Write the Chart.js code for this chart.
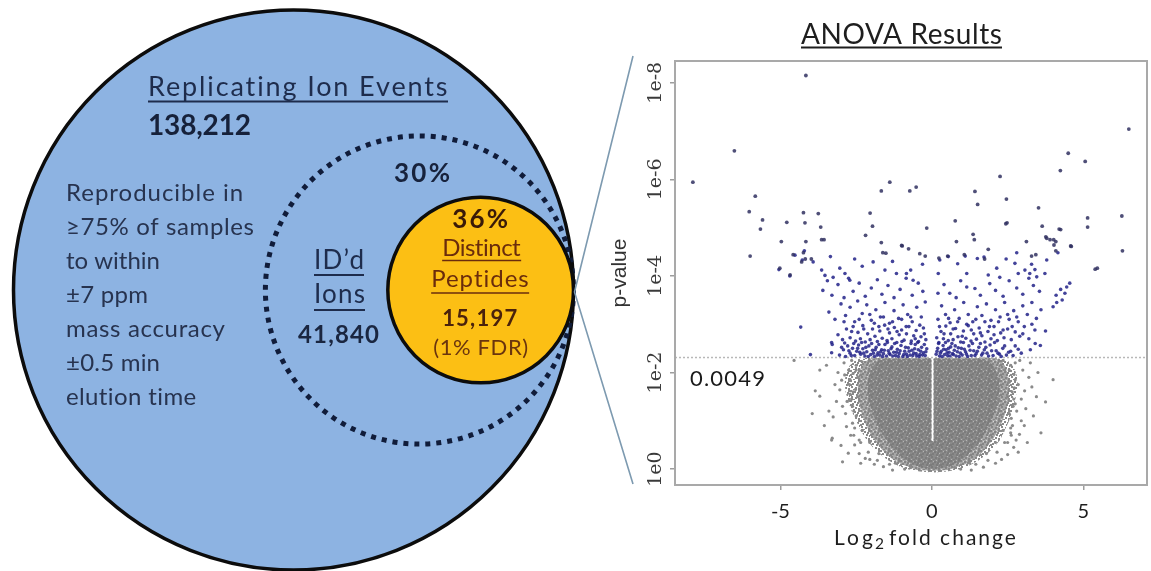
<!DOCTYPE html>
<html>
<head>
<meta charset="utf-8">
<title>Replicating ion events and ANOVA results</title>
<script src="https://cdn.jsdelivr.net/npm/chart.js@4.4.1/dist/chart.umd.min.js"></script>
<style>
  html, body { margin: 0; padding: 0; background: #ffffff; }
  #figure { position: relative; width: 1151px; height: 571px; overflow: hidden; background: #ffffff; }
  #venn { position: absolute; left: 0; top: 0; }
  #volcano { position: absolute; left: 600px; top: 0; }
</style>
</head>
<body>
<div id="figure">
  <canvas id="venn" width="640" height="571"></canvas>
  <canvas id="volcano" width="551" height="571"></canvas>
</div>
<script>
// ---------------- data ----------------
const vennNames = ['Replicating Ion Events', 'ID\u2019d Ions', 'Distinct Peptides'];
const vennCounts = [138212, 41840, 15197];
const vennCriteria = ['Reproducible in', '\u226575% of samples', 'to within', '\u00b17 ppm',
                      'mass accuracy', '\u00b10.5 min', 'elution time'];
const fdrNote = '(1% FDR)';

const thresholdP = 0.0049;
const xTicks = [-5, 0, 5];
const yTicks = [0, 2, 4, 6, 8];                 // -log10(p)
const yTickLabels = ['1e0', '1e-2', '1e-4', '1e-6', '1e-8'];

// significant peptides [log2 fold change, -log10 p], p < threshold
const sigPoints = [
  [-3.31,2.41],[-3.29,2.58],[-3.05,2.36],[-2.92,2.47],[-2.85,2.33],[-2.78,2.55],[-2.7,2.4],[-2.62,2.5],[-2.55,2.35],[-2.48,2.44],
  [-2.42,2.57],[-2.35,2.38],[-2.28,2.49],[-2.21,2.34],[-2.15,2.43],[-2.08,2.55],[-2.02,2.37],[-1.96,2.46],[-1.9,2.33],[-1.84,2.52],
  [-1.78,2.41],[-1.72,2.36],[-1.66,2.47],[-1.6,2.39],[-1.55,2.58],[-1.5,2.34],[-1.44,2.45],[-1.38,2.37],[-1.32,2.53],[-1.26,2.42],
  [-1.2,2.35],[-1.14,2.48],[-1.08,2.39],[-1.02,2.56],[-0.96,2.33],[-0.9,2.44],[-0.84,2.38],[-0.78,2.51],[-0.72,2.36],[-0.66,2.46],
  [-0.6,2.4],[-0.55,2.58],[-0.5,2.34],[-0.45,2.47],[-0.4,2.37],[-0.34,2.52],[-0.28,2.41],[-0.22,2.35],[-0.17,2.49],
  [0.14,2.38],[0.19,2.5],[0.25,2.34],[0.31,2.44],[0.37,2.56],[0.42,2.37],[0.47,2.47],[0.52,2.35],[0.57,2.42],[0.62,2.53],
  [0.68,2.39],[0.74,2.46],[0.8,2.34],[0.87,2.51],[0.94,2.4],[1.0,2.36],[1.07,2.48],[1.14,2.38],[1.22,2.55],[1.3,2.35],
  [1.38,2.45],[1.46,2.39],[1.55,2.52],[1.64,2.36],[1.73,2.47],[1.82,2.4],[1.92,2.57],[2.02,2.35],[2.12,2.45],[2.23,2.38],
  [2.34,2.5],[2.46,2.36],[2.6,2.44],[2.75,2.55],[2.95,2.4],[3.25,2.47],[3.41,2.6],[3.58,2.56],[-4.01,2.37],
  [-2.98,2.52],[-2.88,2.61],[-2.74,2.45],[-2.66,2.35],[-2.58,2.6],[-2.45,2.5],[-2.38,2.42],[-2.32,2.62],[-2.25,2.4],[-2.18,2.52],
  [-2.1,2.33],[-1.99,2.6],[-1.93,2.4],[-1.87,2.47],[-1.81,2.36],[-1.75,2.58],[-1.69,2.43],[-1.63,2.33],[-1.57,2.46],[-1.47,2.62],
  [-1.41,2.4],[-1.35,2.49],[-1.29,2.34],[-1.23,2.6],[-1.17,2.42],[-1.11,2.33],[-1.05,2.45],[-0.99,2.64],[-0.93,2.37],[-0.87,2.52],
  [-0.81,2.33],[-0.75,2.44],[-0.69,2.6],[-0.63,2.35],[-0.57,2.49],[-0.52,2.39],[-0.47,2.62],[-0.42,2.33],[-0.37,2.44],[-0.31,2.36],
  [-0.25,2.58],[-0.2,2.43],
  [0.17,2.44],[0.22,2.6],[0.28,2.4],[0.34,2.33],[0.39,2.48],[0.45,2.62],[0.5,2.41],[0.55,2.5],[0.6,2.34],[0.66,2.6],
  [0.71,2.37],[0.77,2.55],[0.84,2.43],[0.9,2.33],[0.97,2.5],[1.04,2.62],[1.11,2.43],[1.18,2.33],[1.26,2.46],[1.34,2.6],
  [1.42,2.35],[1.5,2.44],[1.6,2.6],[1.68,2.4],[1.78,2.52],[1.87,2.34],[1.97,2.45],[2.07,2.62],[2.18,2.4],[2.29,2.33],
  [2.4,2.55],[2.53,2.42],[2.68,2.35],[2.85,2.48],
  [-3.31,2.62],[-3.1,2.78],[-2.95,2.68],[-2.82,2.9],[-2.7,2.72],[-2.6,2.95],[-2.52,2.65],[-2.44,2.83],[-2.36,2.7],[-2.28,2.97],
  [-2.2,2.63],[-2.12,2.8],[-2.04,2.68],[-1.96,2.9],[-1.88,2.75],[-1.8,2.64],[-1.72,2.86],[-1.64,2.71],[-1.56,2.98],[-1.48,2.66],
  [-1.4,2.82],[-1.32,2.7],[-1.24,2.93],[-1.16,2.62],[-1.08,2.78],[-1.0,2.88],[-0.92,2.67],[-0.84,2.8],[-0.76,2.95],[-0.68,2.65],
  [-0.6,2.76],[-0.52,2.87],[-0.44,2.64],[-0.36,2.74],[-0.28,2.92],[-0.2,2.68],
  [0.16,2.72],[0.23,2.62],[0.3,2.85],[0.38,2.7],[0.46,2.96],[0.54,2.66],[0.62,2.8],[0.7,2.68],[0.78,2.91],[0.86,2.74],
  [0.95,2.63],[1.04,2.86],[1.12,2.71],[1.2,2.97],[1.29,2.65],[1.38,2.8],[1.47,2.69],[1.56,2.92],[1.65,2.76],[1.75,2.63],
  [1.85,2.85],[1.95,2.7],[2.05,2.95],[2.16,2.66],[2.27,2.82],[2.38,2.72],[2.5,2.9],[2.62,2.68],[2.75,2.84],[2.9,2.75],
  [3.05,2.95],[3.2,2.7],[3.4,2.88],[3.75,2.86],[-4.33,2.94],
  [-2.9,3.05],[-2.65,2.85],[-2.4,3.1],[-2.25,2.9],[-2.05,3.2],[-1.9,3.02],[-1.75,2.95],[-1.6,3.15],[-1.45,2.9],[-1.3,3.05],
  [-1.15,2.85],[-1.0,3.1],[-0.85,2.95],[-0.7,3.15],[-0.55,2.7],[-0.4,2.98],[-0.25,2.8],
  [0.25,2.95],[0.4,2.8],[0.55,3.12],[0.7,2.9],[0.85,3.05],[1.0,2.75],[1.15,3.0],[1.3,2.88],[1.45,3.1],[1.6,2.82],
  [1.75,3.05],[1.9,2.95],[2.05,2.78],[2.2,3.05],[2.35,2.88],[2.5,3.2],[2.65,2.95],[2.8,3.15],[3.0,2.8],[3.3,3.0],
  [-3.4,3.25],[-3.2,3.1],[-3.0,3.42],[-2.85,3.18],[-2.7,3.35],[-2.55,3.05],[-2.45,3.48],[-2.3,3.22],[-2.15,3.4],[-2.0,3.08],
  [-1.85,3.3],[-1.7,3.15],[-1.55,3.45],[-1.4,3.02],[-1.25,3.28],[-1.1,3.12],[-0.95,3.4],[-0.8,3.2],[-0.65,3.05],[-0.5,3.35],
  [-0.35,3.15],[-0.22,3.46],[0.2,3.1],[0.32,3.38],[0.45,3.2],[0.6,3.03],[0.75,3.3],[0.9,3.12],[1.05,3.45],[1.2,3.2],
  [1.35,3.05],[1.5,3.36],[1.65,3.18],[1.8,3.42],[1.95,3.08],[2.1,3.3],[2.25,3.15],[2.4,3.45],[2.55,3.1],[2.7,3.28],
  [2.85,3.05],[3.0,3.38],[3.15,3.2],[3.3,3.45],[3.45,3.12],[3.6,3.3],[4.0,3.36],[4.12,3.45],[4.3,3.5],
  [-3.6,3.7],[-3.45,3.9],[-3.3,3.6],[-3.1,3.82],[-2.9,3.55],[-2.75,3.95],[-2.6,3.68],[-2.4,3.85],[-2.2,3.58],[-2.0,3.75],
  [-1.8,3.92],[-1.65,3.62],[-1.45,3.8],[-1.25,3.55],[-1.05,3.72],[-0.85,3.95],[-0.65,3.6],[-0.45,3.85],[-0.3,3.68],
  [0.2,3.64],[0.4,3.82],[0.59,3.64],[0.8,3.55],[0.95,3.9],[1.15,3.77],[1.42,3.74],[1.6,3.6],[1.91,3.84],[2.1,3.7],
  [2.35,3.58],[2.55,3.9],[2.8,3.75],[3.0,3.62],[3.2,3.95],[3.35,3.8],[3.55,3.68],[4.1,3.6],[4.25,3.72],[4.39,3.64],
  [4.45,3.77],[4.55,3.85],
  [-5.05,4.13],[-4.69,4.0],[-4.52,4.43],[-4.21,4.52],[-4.28,4.33],[-3.92,4.29],[-3.64,4.12],[-3.53,4.01],[-3.26,3.97],[-3.04,4.16],
  [-2.87,4.05],[-2.71,3.91],[-1.94,4.29],[-1.55,4.12],[-1.17,4.05],[-0.7,4.12],[-0.31,4.24],[-0.84,4.05],[-0.62,3.91],[0.21,4.05],
  [0.26,4.33],[0.54,4.4],[1.1,4.41],[1.15,4.05],[1.5,4.36],[1.72,4.39],[1.86,4.02],[2.14,4.16],[2.24,3.97],[2.74,4.26],
  [2.85,4.05],[2.8,4.48],[3.07,4.12],[3.23,4.05],[3.4,4.13],[3.46,3.98],[3.29,4.24],[3.73,4.05],[3.79,4.33],[4.16,4.48],
  [-2.3,4.2],[-2.55,4.35],[-1.3,4.3],[-3.35,4.4],[0.85,4.25],[2.45,4.35]
];

// strongest hits, p below about 1e-4.5
const topPoints = [
  [-4.16,8.15],[-6.52,6.59],[-7.89,5.94],[6.5,7.04],[4.5,6.54],[5.06,6.37],[4.24,6.18],[2.25,6.06],[-1.39,5.94],[-1.67,5.76],
  [-0.73,5.76],[-0.52,5.84],[1.42,5.75],[2.46,5.59],[1.51,5.48],[-5.83,5.65],[-6.03,5.33],[-5.59,5.16],[-5.66,4.97],[-4.79,5.11],
  [-4.24,5.31],[-3.75,5.29],[-4.19,5.1],[-3.67,5.01],[-4.97,4.71],[-3.64,4.75],[-2.04,5.3],[-1.96,5.03],[-2.19,4.84],[3.52,5.41],
  [5.14,5.2],[6.27,5.24],[2.48,5.1],[0.77,5.14],[-0.17,4.99],[3.64,5.03],[4.2,4.97],[4.02,4.75],[5.14,5.01],[1.36,4.86],
  [1.4,4.75],[0.81,4.71],[3.12,4.71],[3.76,4.81],[4.09,4.52],[4.58,4.62],[6.29,4.52],[5.39,4.14],[5.46,4.16],[-6.0,4.41],
  [-4.58,4.44],[-4.16,4.71],[-4.24,4.48],[-3.98,4.35],[-3.56,4.75],[-5.02,4.16],[-4.68,4.02],[-4.3,4.29],[-4.18,4.35],[-1.67,4.69],
  [-1.62,4.48],[-1.0,4.63],[-0.77,4.56],[-0.4,4.46],[0.23,4.37],[0.52,4.41],[1.07,4.44],[1.74,4.35],[3.29,4.41],[3.43,4.44],
  [4.09,4.71],[3.9,4.75],[-1.52,4.47],[-0.98,4.62],[-0.22,4.41],[4.6,4.61],[4.03,4.64],[3.79,4.78],[2.44,5.08],[4.25,4.96],
  [1.86,4.55]
];

// non-significant peptides around the dense core
const grayPoints = [
  [-3.85,1.62],[-3.7,1.51],[-3.48,2.15],[-3.29,0.64],[-3.26,1.08],[-3.04,1.64],[-2.98,1.84],[-3.0,0.49],[-2.82,0.88],[-2.76,0.33],
  [-2.6,1.98],[-3.31,0.6],[-2.9,2.2],[-2.75,2.05],[-2.95,1.3],[-2.85,1.15],[-2.7,1.55],[-2.72,1.75],[-2.68,0.7],[-2.55,0.5],
  [-2.62,0.95],[-2.4,0.32],[-2.2,0.22],[-2.3,2.22],[-2.5,2.15],[-2.65,2.25],[-3.1,2.0],[-3.15,1.4],[-3.4,1.2],[-2.95,0.15],
  [-2.35,0.12],[-1.9,0.1],[-3.55,0.9],[-2.8,1.4],[-2.88,1.95],[-3.2,1.75],[-2.58,1.2],[-2.52,1.65],[-2.45,1.9],[-2.4,0.6],
  [-2.05,0.2],[-1.6,0.05],[-1.3,-0.02],[-4.55,2.25],[-3.7,2.05],[-3.95,1.15],
  [3.75,1.39],[3.06,1.62],[2.71,1.96],[2.89,0.72],[2.66,0.9],[2.8,1.2],[2.95,1.45],[2.85,1.75],[3.0,2.05],[2.75,2.2],
  [3.2,1.9],[3.35,1.1],[2.7,0.45],[2.5,0.3],[2.3,0.2],[3.05,0.9],[2.72,1.68],[2.9,2.25],[3.5,2.0],[2.6,2.15],
  [3.15,0.55],[2.78,0.6],[2.95,1.0],[3.3,1.7],[2.5,0.55],[2.75,1.35],[2.35,2.25],[3.1,1.25],[2.62,1.05],[2.55,1.8],
  [2.85,0.35],[2.1,0.12],[1.7,0.04],[1.3,-0.02],[3.45,1.5],[4.0,1.85],[3.6,0.75],[2.4,2.05],[3.25,2.2],[2.6,0.75],
  [-2.6,1.6],[-2.62,1.3],[-2.55,0.85],[-2.35,0.55],[-2.1,0.35],[-1.8,0.18],[-1.4,0.1],[-0.9,0.0],[-2.7,1.85],[-2.5,2.05],
  [-2.45,1.5],[-2.5,1.1],[-2.3,0.8],[-2.05,0.55],[-1.75,0.32],[-1.2,0.12],[-0.7,0.03],[-2.65,1.45],[-2.58,0.7],
  [2.65,1.6],[2.68,1.3],[2.6,0.85],[2.4,0.55],[2.15,0.35],[1.85,0.18],[1.45,0.1],[0.95,0.0],[2.75,1.85],[2.55,2.05],
  [2.5,1.5],[2.55,1.15],[2.35,0.8],[2.1,0.55],[1.8,0.32],[1.25,0.12],[0.75,0.03],[2.7,1.45],[2.62,0.7]
];

// outlines of the non-significant cloud (the notch is the empty strip at zero fold change)
const coreOuter = [
  [-0.02,2.31],[-1.0,2.31],[-2.1,2.31],[-2.5,2.27],[-2.72,2.14],[-2.85,1.95],[-2.88,1.78],[-2.85,1.6],[-2.76,1.4],[-2.65,1.2],
  [-2.5,1.0],[-2.35,0.8],[-2.15,0.6],[-1.95,0.45],[-1.7,0.3],[-1.45,0.18],[-1.15,0.08],[-0.85,0.0],[-0.4,-0.05],[0.05,-0.07],
  [0.5,-0.05],[0.95,0.0],[1.25,0.08],[1.55,0.18],[1.8,0.3],[2.05,0.45],[2.25,0.6],[2.4,0.8],[2.55,1.0],[2.65,1.2],
  [2.74,1.4],[2.8,1.6],[2.83,1.78],[2.8,1.95],[2.7,2.12],[2.5,2.25],[2.0,2.31],[1.0,2.31],[0.06,2.31],[0.06,0.58],
  [-0.02,0.58]
];
const coreMid = [
  [-0.02,2.3],[-2.0,2.3],[-2.22,2.22],[-2.35,2.1],[-2.43,1.93],[-2.45,1.75],[-2.43,1.55],[-2.4,1.35],[-2.32,1.15],[-2.2,0.95],
  [-2.06,0.77],[-1.9,0.6],[-1.7,0.44],[-1.5,0.3],[-1.25,0.18],[-1.0,0.1],[-0.5,-0.02],[0.05,-0.04],[0.55,-0.02],[1.1,0.1],
  [1.35,0.18],[1.6,0.3],[1.8,0.44],[2.0,0.6],[2.16,0.77],[2.3,0.95],[2.42,1.15],[2.5,1.35],[2.54,1.55],[2.55,1.75],
  [2.52,1.93],[2.45,2.1],[2.32,2.22],[2.1,2.3],[0.06,2.3],[0.06,0.58],[-0.02,0.58]
];
const coreInner = [
  [-0.02,2.28],[-1.6,2.28],[-1.82,2.22],[-1.95,2.12],[-2.05,1.98],[-2.1,1.85],[-2.12,1.68],[-2.1,1.5],[-2.04,1.32],[-1.95,1.15],
  [-1.84,0.97],[-1.7,0.8],[-1.54,0.64],[-1.35,0.48],[-1.13,0.33],[-0.9,0.2],[-0.65,0.11],[-0.4,0.04],[0.05,0.0],[0.5,0.04],
  [0.75,0.11],[1.0,0.2],[1.23,0.33],[1.45,0.48],[1.64,0.64],[1.8,0.8],[1.94,0.97],[2.05,1.15],[2.14,1.32],[2.2,1.5],
  [2.22,1.68],[2.2,1.85],[2.15,1.98],[2.05,2.12],[1.9,2.22],[1.7,2.28],[0.06,2.28],[0.06,0.58],[-0.02,0.58]
];

// ---------------- helpers ----------------
const xy = arr => arr.map(([x, y]) => ({ x, y }));
const hasSpacing = 'letterSpacing' in CanvasRenderingContext2D.prototype;

// draw a string so that it spans [x0, x0 + width]
function spanText(ctx, text, x0, baseline, width, font, color) {
  ctx.save();
  ctx.font = font;
  ctx.fillStyle = color;
  ctx.textAlign = 'left';
  ctx.textBaseline = 'alphabetic';
  if (hasSpacing) ctx.letterSpacing = '0px';
  const n = Array.from(text).length;
  const w0 = ctx.measureText(text).width;
  if (hasSpacing && n > 1) {
    ctx.letterSpacing = ((width - w0) / (n - 1)).toFixed(2) + 'px';
    ctx.fillText(text, x0, baseline);
  } else {
    ctx.translate(x0, baseline);
    ctx.scale(width / w0, 1);
    ctx.fillText(text, 0, 0);
  }
  ctx.restore();
}
function underline(ctx, x0, y, width, color, lw) {
  ctx.save();
  ctx.strokeStyle = color;
  ctx.lineWidth = lw;
  ctx.beginPath();
  ctx.moveTo(x0, y);
  ctx.lineTo(x0 + width, y);
  ctx.stroke();
  ctx.restore();
}
// point-cloud textures: grey dots on a base tone, repeated as a fill pattern
const DOTS = [[0,0],[4,1],[8,0],[2,3],[6,4],[9,5],[1,6],[5,7],[8,8],[3,9],[7,2],[0,4]];
function texture(base, dot, fleck) {
  const tile = document.createElement('canvas');
  tile.width = 10; tile.height = 10;
  const t = tile.getContext('2d');
  if (base) { t.fillStyle = base; t.fillRect(0, 0, 10, 10); }
  t.fillStyle = dot;
  DOTS.forEach(([x, y]) => t.fillRect(x, y, 2, 2));
  if (fleck) {
    t.fillStyle = fleck;
    [[3,1],[7,6],[1,9],[6,0],[9,3]].forEach(([x, y]) => t.fillRect(x, y, 1, 1));
  }
  return document.getElementById('volcano').getContext('2d').createPattern(tile, 'repeat');
}

// ---------------- nested-circle diagram ----------------
const OUTER_R = 280;          // px radius of the largest circle (areas follow the counts)
const TANGENT_X = 573.5;      // all circles touch at their right edge
const CENTER_Y = 290;
const radii = vennCounts.map(c => OUTER_R * Math.sqrt(c / vennCounts[0]));
const circle = i => [{ x: TANGENT_X - radii[i], y: CENTER_Y, r: radii[i] }];
const pct = (a, b) => Math.round(100 * a / b) + '%';

const dottedRing = {
  id: 'dottedRing',
  beforeDatasetDraw(chart, args) {
    if (args.index === 1) {
      chart.ctx.save();
      chart.ctx.setLineDash([5, 6]);
      chart.ctx.lineCap = 'butt';
    }
  },
  afterDatasetDraw(chart, args) {
    if (args.index === 1) chart.ctx.restore();
  }
};

const vennText = {
  id: 'vennText',
  afterDatasetsDraw(chart) {
    const ctx = chart.ctx;
    const navy = '#1e2c4c';
    const rust = '#6a2c0c';
    const big = chart.getDatasetMeta(2).data[0];
    const yel = chart.getDatasetMeta(0).data[0];
    const yc = yel.x - 0.5;

    // outer circle
    spanText(ctx, vennNames[0], 148, 96, 300, '27px Lato', navy);
    underline(ctx, 148, 101.5, 300, navy, 1.8);
    spanText(ctx, vennCounts[0].toLocaleString('en-US'), 148, 135, 103, 'bold 28px Lato', '#16213a');
    const critW = [177, 188, 94, 82, 159, 94, 131];
    vennCriteria.forEach((t, i) => spanText(ctx, t, 66, 200.7 + 34 * i, critW[i], '24px Lato', '#27334f'));

    // identified ions
    spanText(ctx, pct(vennCounts[1], vennCounts[0]), 394, 182, 56, 'bold 26px Lato', '#17223c');
    const [idWord, ionWord] = vennNames[1].split(' ');
    spanText(ctx, idWord, 314, 269, 50, '26px Lato', navy);
    underline(ctx, 314, 275, 50, navy, 1.8);
    spanText(ctx, ionWord, 314, 303, 51, '26px Lato', navy);
    underline(ctx, 314, 310, 51, navy, 1.8);
    spanText(ctx, vennCounts[1].toLocaleString('en-US'), 298, 343, 81, 'bold 24px Lato', '#1a2640');

    // distinct peptides
    const [dWord, pWord] = vennNames[2].split(' ');
    spanText(ctx, pct(vennCounts[2], vennCounts[1]), yc - 28, 228, 56, 'bold 26px Lato', '#3a1a08');
    spanText(ctx, dWord, yc - 38, 256, 79, '24px Lato', rust);
    underline(ctx, yc - 38, 260.5, 79, rust, 1.6);
    spanText(ctx, pWord, yc - 49, 287, 98, '24px Lato', rust);
    underline(ctx, yc - 49, 293, 98, rust, 1.6);
    spanText(ctx, vennCounts[2].toLocaleString('en-US'), yc - 38, 326, 75, 'bold 22px Lato', '#4a220c');
    spanText(ctx, fdrNote, yc - 47, 355, 95, '22px Lato', '#6a350e');

    // zoom lines towards the volcano plot
    const tx = yel.x + yel.options.radius;
    ctx.save();
    ctx.strokeStyle = '#7d9ab0';
    ctx.lineWidth = 1.6;
    ctx.beginPath();
    ctx.moveTo(633, 56); ctx.lineTo(tx + 1, big.y + 2); ctx.lineTo(633, 484);
    ctx.stroke();
    ctx.restore();
  }
};

new Chart(document.getElementById('venn'), {
  type: 'bubble',
  data: {
    datasets: [
      { label: vennNames[2], data: circle(2), backgroundColor: '#fcbf14', borderColor: '#0c0c0c', borderWidth: 3.5 },
      { label: vennNames[1], data: circle(1), backgroundColor: 'rgba(0,0,0,0)', borderColor: '#101c3a', borderWidth: 5 },
      { label: vennNames[0], data: circle(0), backgroundColor: '#8db3e2', borderColor: '#0c0c0c', borderWidth: 3.5 }
    ]
  },
  options: {
    responsive: false,
    devicePixelRatio: 1,
    animation: false,
    events: [],
    layout: { padding: 0, autoPadding: false },
    scales: {
      x: { type: 'linear', min: 0, max: 640, display: false },
      y: { type: 'linear', min: 0, max: 571, reverse: true, display: false }
    },
    plugins: { legend: { display: false }, tooltip: { enabled: false } }
  },
  plugins: [dottedRing, vennText]
});

// ---------------- volcano plot ----------------
const X_MIN = -8.48, X_MAX = 7.1, Y_MIN = -0.33, Y_MAX = 8.45;
const thrY = -Math.log10(thresholdP);

const volcanoDecor = {
  id: 'volcanoDecor',
  afterDraw(chart) {
    const ctx = chart.ctx;
    const a = chart.chartArea;
    const xs = chart.scales.x, ys = chart.scales.y;
    ctx.save();
    ctx.strokeStyle = '#a9a9a9';
    ctx.lineWidth = 2;
    ctx.strokeRect(a.left, a.top, a.right - a.left, a.bottom - a.top);
    ctx.restore();

    // title
    spanText(ctx, 'ANOVA Results', 201, 43.5, 201, '28px Lato', '#1e1e1e');
    underline(ctx, 201, 47.5, 201, '#1e1e1e', 1.8);

    // x-axis title with subscript
    spanText(ctx, 'Log', 234, 545, 39, '21px Lato', '#1e1e1e');
    spanText(ctx, '2', 275, 549, 9, '15px Lato', '#1e1e1e');
    spanText(ctx, 'fold change', 289, 545, 127, '21px Lato', '#1e1e1e');

    // threshold value
    const lx = xs.getPixelForValue(X_MIN) + 15;
    const ly = ys.getPixelForValue(thrY) + 28;
    spanText(ctx, String(thresholdP), lx, ly, 75, '22px Lato', '#1a1a1a');
  }
};

new Chart(document.getElementById('volcano'), {
  type: 'scatter',
  data: {
    datasets: [
      { label: 'p < 1e-4.5', data: xy(topPoints), backgroundColor: 'rgba(48,48,96,0.85)', pointRadius: 1.9, borderWidth: 0, order: 1 },
      { label: 'significant', data: xy(sigPoints), backgroundColor: 'rgba(34,34,136,0.85)', pointRadius: 1.8, borderWidth: 0, order: 2 },
      { label: 'threshold', type: 'line', data: [{ x: X_MIN, y: thrY }, { x: X_MAX, y: thrY }],
        borderColor: '#b8b8b8', borderWidth: 1.5, borderDash: [2, 2], pointRadius: 0, fill: false, order: 3 },
      { label: 'not significant', data: xy(grayPoints), backgroundColor: '#8a8a8a', pointRadius: 1.6, borderWidth: 0, order: 4 },
      { label: 'dense core', type: 'line', data: xy(coreInner), showLine: true, fill: 'shape',
        backgroundColor: texture('#8a8a8a', '#7c7c7c', '#b4b4b4'), borderWidth: 0, pointRadius: 0, tension: 0, order: 5 },
      { label: 'cloud', type: 'line', data: xy(coreMid), showLine: true, fill: 'shape',
        backgroundColor: texture('#a6a6a6', '#858585', '#d8d8d8'), borderWidth: 0, pointRadius: 0, tension: 0, order: 6 },
      { label: 'cloud edge', type: 'line', data: xy(coreOuter), showLine: true, fill: 'shape',
        backgroundColor: texture(null, '#8a8a8a', null), borderWidth: 0, pointRadius: 0, tension: 0, order: 7 }
    ]
  },
  options: {
    responsive: false,
    devicePixelRatio: 1,
    animation: false,
    events: [],
    layout: { padding: { left: 0, right: 4, top: 61, bottom: 0 }, autoPadding: false },
    scales: {
      x: {
        type: 'linear', min: X_MIN, max: X_MAX,
        afterBuildTicks: s => { s.ticks = xTicks.map(v => ({ value: v })); },
        afterFit: s => { s.height = 86; },
        grid: { display: true, drawOnChartArea: false, drawTicks: true, tickLength: 5, color: '#9d9d9d', lineWidth: 1.5 },
        border: { display: true, color: '#a9a9a9', width: 2 },
        ticks: { font: { family: 'Lato', size: 20 }, color: '#1e1e1e', padding: 10, maxRotation: 0 }
      },
      y: {
        type: 'linear', min: Y_MIN, max: Y_MAX,
        afterBuildTicks: s => { s.ticks = yTicks.map(v => ({ value: v })); },
        afterFit: s => { s.width = 75; },
        grid: { display: true, drawOnChartArea: false, drawTicks: true, tickLength: 5, color: '#9d9d9d', lineWidth: 1.5 },
        border: { display: true, color: '#a9a9a9', width: 2 },
        ticks: {
          callback: (v, i) => yTickLabels[i],
          font: { family: 'DejaVu Serif', size: 19 }, color: '#3a3a3a',
          minRotation: 90, maxRotation: 90, crossAlign: 'center', padding: -7
        },
        title: { display: true, text: 'p-value', font: { family: 'Liberation Sans', size: 21 }, color: '#333333',
                 padding: { top: 8, bottom: 0 } }
      }
    },
    plugins: { legend: { display: false }, tooltip: { enabled: false } }
  },
  plugins: [volcanoDecor]
});
</script>
</body>
</html>
